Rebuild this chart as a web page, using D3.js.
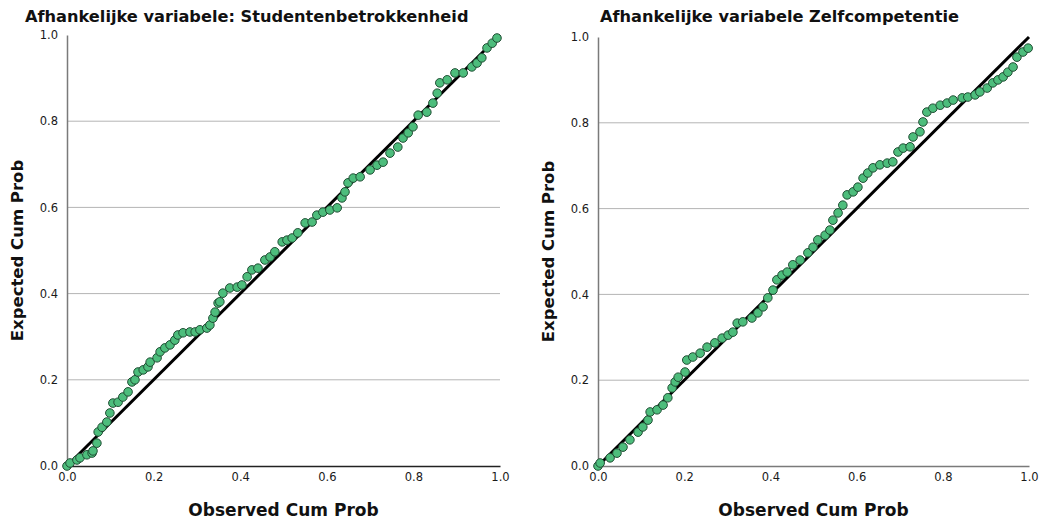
<!DOCTYPE html>
<html>
<head>
<meta charset="utf-8">
<script src="https://cdn.jsdelivr.net/npm/d3@7"></script>
<style>
  body { margin: 0; background: #fff; }
  svg { display: block; font-family: "DejaVu Sans", sans-serif; }
</style>
</head>
<body>
<svg id="chart" width="1042" height="521"></svg>
<script>
// tick labels shared by both panels
const tickValues = [0, 0.2, 0.4, 0.6, 0.8, 1.0];

// P-P plot: Studentenbetrokkenheid (observed, expected)
const betrokObserved = [
  0.000, 0.007, 0.023, 0.030, 0.046, 0.058, 0.060, 0.069, 0.072, 0.081,
  0.092, 0.099, 0.106, 0.118, 0.129, 0.141, 0.150, 0.157, 0.164, 0.176,
  0.187, 0.192, 0.208, 0.215, 0.226, 0.238, 0.249, 0.256, 0.268, 0.284,
  0.296, 0.307, 0.323, 0.330, 0.337, 0.342, 0.349, 0.353, 0.360, 0.376,
  0.393, 0.404, 0.416, 0.427, 0.441, 0.457, 0.469, 0.480, 0.497, 0.508,
  0.520, 0.533, 0.550, 0.566, 0.577, 0.591, 0.607, 0.624, 0.635, 0.642,
  0.649, 0.661, 0.677, 0.700, 0.716, 0.730, 0.746, 0.764, 0.776, 0.788,
  0.799, 0.811, 0.831, 0.845, 0.855, 0.861, 0.878, 0.896, 0.915, 0.935,
  0.947, 0.958, 0.970, 0.982, 0.993
];
const betrokExpected = [
  0.000, 0.007, 0.014, 0.019, 0.026, 0.030, 0.035, 0.053, 0.079, 0.090,
  0.102, 0.123, 0.146, 0.148, 0.160, 0.172, 0.195, 0.200, 0.218, 0.223,
  0.230, 0.241, 0.251, 0.265, 0.274, 0.281, 0.292, 0.304, 0.309, 0.311,
  0.311, 0.316, 0.320, 0.327, 0.343, 0.357, 0.378, 0.381, 0.401, 0.413,
  0.415, 0.420, 0.439, 0.455, 0.459, 0.478, 0.485, 0.497, 0.520, 0.524,
  0.529, 0.541, 0.564, 0.566, 0.582, 0.589, 0.594, 0.599, 0.622, 0.636,
  0.657, 0.668, 0.671, 0.687, 0.698, 0.705, 0.726, 0.740, 0.761, 0.773,
  0.787, 0.814, 0.821, 0.842, 0.865, 0.889, 0.896, 0.912, 0.912, 0.926,
  0.935, 0.947, 0.970, 0.981, 0.993
];

// P-P plot: Zelfcompetentie (observed, expected)
const zelfObserved = [
  0.000, 0.005, 0.028, 0.044, 0.058, 0.074, 0.093, 0.104, 0.116, 0.121,
  0.137, 0.151, 0.162, 0.172, 0.179, 0.186, 0.202, 0.206, 0.220, 0.237,
  0.253, 0.271, 0.288, 0.302, 0.313, 0.323, 0.336, 0.357, 0.371, 0.383,
  0.394, 0.406, 0.415, 0.427, 0.439, 0.452, 0.469, 0.487, 0.499, 0.510,
  0.527, 0.538, 0.545, 0.557, 0.568, 0.578, 0.592, 0.603, 0.615, 0.626,
  0.638, 0.654, 0.671, 0.684, 0.696, 0.708, 0.724, 0.731, 0.747, 0.754,
  0.763, 0.777, 0.794, 0.810, 0.824, 0.845, 0.858, 0.875, 0.886, 0.903,
  0.916, 0.928, 0.940, 0.951, 0.963, 0.972, 0.986, 0.998
];
const zelfExpected = [
  0.000, 0.007, 0.019, 0.030, 0.044, 0.061, 0.079, 0.091, 0.107, 0.126,
  0.131, 0.142, 0.159, 0.182, 0.196, 0.207, 0.219, 0.247, 0.254, 0.263,
  0.277, 0.287, 0.298, 0.305, 0.312, 0.333, 0.336, 0.345, 0.357, 0.371,
  0.392, 0.410, 0.434, 0.445, 0.452, 0.469, 0.480, 0.497, 0.510, 0.527,
  0.538, 0.550, 0.573, 0.590, 0.608, 0.632, 0.639, 0.650, 0.671, 0.683,
  0.695, 0.702, 0.706, 0.709, 0.732, 0.741, 0.744, 0.767, 0.779, 0.802,
  0.825, 0.834, 0.841, 0.846, 0.853, 0.858, 0.860, 0.865, 0.872, 0.881,
  0.893, 0.900, 0.907, 0.918, 0.930, 0.953, 0.965, 0.974
];

const svg = d3.select("#chart");

function drawPanel(opts) {
  const x = d3.scaleLinear().domain([0, 1]).range([opts.left, opts.right]);
  const y = d3.scaleLinear().domain([0, 1]).range([opts.bottom, opts.top]);
  const g = svg.append("g");

  // horizontal gridlines
  g.selectAll(".grid")
    .data(tickValues.filter((t) => t > 0 && t < 1))
    .enter()
    .append("line")
    .attr("x1", x(0))
    .attr("x2", x(1))
    .attr("y1", (d) => y(d))
    .attr("y2", (d) => y(d))
    .attr("stroke", "#b4b4b4")
    .attr("stroke-width", 1);

  // y axis
  const yAxis = g.append("g")
    .attr("transform", `translate(${x(0)},0)`)
    .call(d3.axisLeft(y).tickValues(tickValues).tickFormat(d3.format(".1f")).tickSize(0).tickPadding(9));
  yAxis.select(".domain").attr("stroke", "#7a7a7a").attr("stroke-width", 1.5);

  // x axis
  const xAxis = g.append("g")
    .attr("transform", `translate(0,${y(0)})`)
    .call(d3.axisBottom(x).tickValues(tickValues).tickFormat(d3.format(".1f")).tickSize(0).tickPadding(7));
  xAxis.select(".domain").attr("stroke", opts.xAxisColor).attr("stroke-width", 1.5);

  g.selectAll(".tick text")
    .attr("font-family", "DejaVu Sans, sans-serif")
    .attr("font-size", 11.5)
    .attr("fill", "#1a1a1a");

  // reference diagonal
  g.append("line")
    .attr("x1", x(0))
    .attr("y1", y(0))
    .attr("x2", x(1))
    .attr("y2", y(1))
    .attr("stroke", "#000")
    .attr("stroke-width", 3);

  // points
  const pts = opts.observed.map((o, i) => ({ o, e: opts.expected[i] }));
  g.selectAll("circle")
    .data(pts)
    .enter()
    .append("circle")
    .attr("cx", (d) => x(d.o))
    .attr("cy", (d) => y(d.e))
    .attr("r", 4.3)
    .attr("fill", "#4dbd7c")
    .attr("stroke", "#1f4d33")
    .attr("stroke-width", 1);

  // titles
  g.append("text")
    .attr("x", opts.titleX)
    .attr("y", 22)
    .attr("font-size", 16.2)
    .attr("font-weight", "bold")
    .attr("fill", "#111")
    .text(opts.title);

  g.append("text")
    .attr("x", (x(0) + x(1)) / 2)
    .attr("y", 516)
    .attr("text-anchor", "middle")
    .attr("font-size", 17)
    .attr("font-weight", "bold")
    .attr("fill", "#111")
    .text("Observed Cum Prob");

  g.append("text")
    .attr("transform", `translate(${opts.left - 44},${(y(0) + y(1)) / 2}) rotate(-90)`)
    .attr("text-anchor", "middle")
    .attr("font-size", 16.5)
    .attr("font-weight", "bold")
    .attr("fill", "#111")
    .text("Expected Cum Prob");
}

drawPanel({
  left: 67, right: 500, top: 35, bottom: 466,
  title: "Afhankelijke variabele: Studentenbetrokkenheid",
  titleX: 25,
  xAxisColor: "#222",
  observed: betrokObserved,
  expected: betrokExpected
});

drawPanel({
  left: 598, right: 1029, top: 37, bottom: 466,
  title: "Afhankelijke variabele Zelfcompetentie",
  titleX: 600,
  xAxisColor: "#7a7a7a",
  observed: zelfObserved,
  expected: zelfExpected
});
</script>
</body>
</html>
